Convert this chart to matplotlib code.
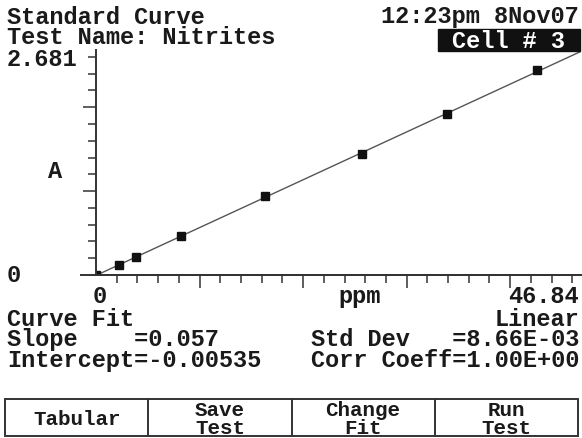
import numpy as np
import matplotlib
matplotlib.use("Agg")
import matplotlib.pyplot as plt
from matplotlib.patches import Rectangle
from matplotlib.lines import Line2D

# standards
conc = [0, 2.25, 3.84, 8.21, 16.33, 25.73, 33.88, 42.58]      # ppm
absb = [0, 0.123, 0.211, 0.470, 0.940, 1.446, 1.915, 2.437]   # A
slope = 0.057
intercept = -0.00535
x_max = 46.84
y_max = 2.681
buttons = ["Tabular", "Save\nTest", "Change\nFit", "Run\nTest"]

W, H = 582, 439
ink = "#1a1a1a"
font = dict(family="Liberation Mono", weight="bold", color=ink)

fig = plt.figure(figsize=(W / 100, H / 100), dpi=100)

def P(x, y):
    # pixel position on the screen -> figure fraction
    return x / W, 1 - y / H

def txt(x, y, s, size=17, ha="left", va="center", **kw):
    fig.text(*P(x, y), s, fontsize=size, ha=ha, va=va, **font, **kw)

# plot area
x0, x1, ytop, ybot = 96, 581, 51, 276
ax = fig.add_axes([x0 / W, 1 - ybot / H, (x1 - x0) / W, (ybot - ytop) / H])
ax.set_xlim(0, x_max)
ax.set_ylim(0, y_max)
for s in ["top", "right"]:
    ax.spines[s].set_visible(False)
for s in ["left", "bottom"]:
    ax.spines[s].set_color("#333333")
    ax.spines[s].set_linewidth(1.4)
ax.axhline(0, xmin=-0.03, xmax=1, color="#333333", lw=1.4, clip_on=False)

ax.set_xticks([10, 20, 30, 40])
ax.set_xticks(np.arange(2, 47, 2), minor=True)
ax.set_yticks([1, 2])
ax.set_yticks(np.arange(0.2, 2.7, 0.2), minor=True)
ax.tick_params(which="major", length=9.5, width=1.1, color="#333333", direction="out",
               labelbottom=False, labelleft=False)
ax.tick_params(which="minor", length=5.5, width=1.1, color="#333333", direction="out")

xs = np.linspace(0, x_max, 200)
ax.plot(xs, slope * xs + intercept, color="#555555", lw=1.0)
ax.plot(conc, absb, "s", color="#111111", ms=6, clip_on=True)

# header text
txt(7, 17, "Standard Curve")
txt(7, 38, "Test Name: Nitrites")
txt(579, 17, "12:23pm 8Nov07", ha="right")
fig.add_artist(Rectangle(P(438, 52), 142 / W, 22 / H, transform=fig.transFigure,
                         facecolor="#111111", edgecolor="#111111"))
fig.text(*P(509, 41), "Cell # 3", fontsize=17, ha="center", va="center",
         family="Liberation Mono", weight="bold", color="white")

# axis labels
txt(7, 60, "%.3f" % y_max)
txt(48, 172, "A")
txt(7, 275, "0")
txt(93, 297, "0")
txt(338, 297, "ppm")
txt(579, 297, "%.2f" % x_max, ha="right")

# fit results
txt(7, 319, "Curve Fit")
txt(579, 319, "Linear", ha="right")
txt(7, 340, "Slope    =%.3f" % slope)
txt(7, 361, "Intercept=%.5f" % intercept)
txt(579, 340, "Std Dev   =8.66E-03", ha="right")
txt(579, 361, "Corr Coeff=1.00E+00", ha="right")

# soft-key bar
bx0, bx1, by0, by1 = 5, 578, 400, 437
fig.add_artist(Rectangle(P(bx0, by1), (bx1 - bx0) / W, (by1 - by0) / H,
                         transform=fig.transFigure, facecolor="none",
                         edgecolor="#333333", lw=1.4))
bw = (bx1 - bx0) / len(buttons)
for i, lab in enumerate(buttons):
    if i > 0:
        xx = (bx0 + i * bw) / W
        fig.add_artist(Line2D([xx, xx], [1 - by0 / H, 1 - by1 / H], color="#333333", lw=1.4))
    fig.text(*P(bx0 + (i + 0.5) * bw, (by0 + by1) / 2 + 1), lab, fontsize=15, ha="center",
             va="center", linespacing=0.95, **font)

fig.savefig("out.png", dpi=100)
